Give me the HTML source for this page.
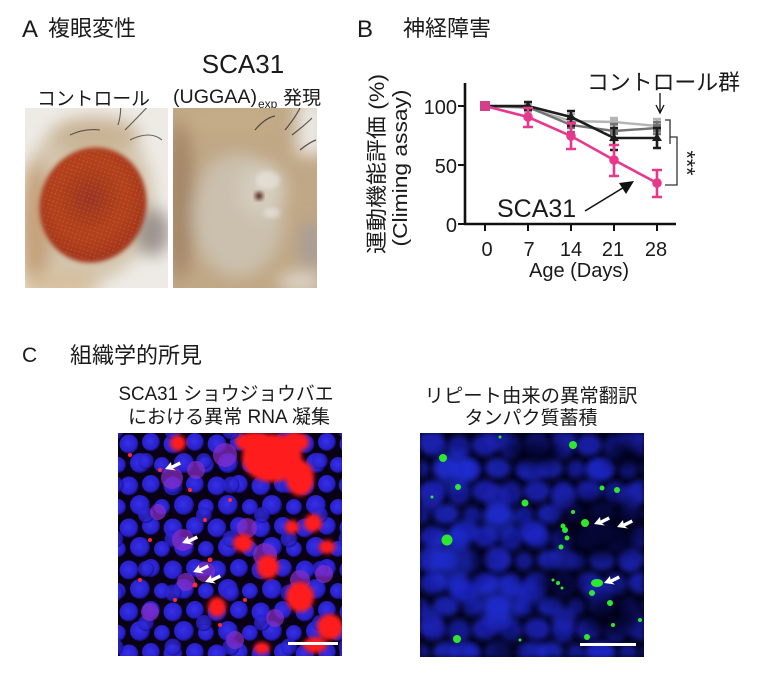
<!DOCTYPE html>
<html><head><meta charset="utf-8"><style>
html,body{margin:0;padding:0;background:#fff;width:768px;height:674px;overflow:hidden}
svg{display:block}
.j{font-family:"Liberation Sans","Noto Sans CJK JP",sans-serif;fill:#1a1a1a}
.l{font-family:"Liberation Sans",sans-serif;fill:#1a1a1a}
</style></head><body>
<svg width="768" height="674" viewBox="0 0 768 674" xmlns="http://www.w3.org/2000/svg">
<defs>
  <filter id="b2" x="-20%" y="-20%" width="140%" height="140%"><feGaussianBlur stdDeviation="2"/></filter>
  <filter id="b3" x="-20%" y="-20%" width="140%" height="140%"><feGaussianBlur stdDeviation="3"/></filter>
  <filter id="b4" x="-30%" y="-30%" width="160%" height="160%"><feGaussianBlur stdDeviation="4"/></filter>
  <filter id="b8" x="-50%" y="-50%" width="200%" height="200%"><feGaussianBlur stdDeviation="8"/></filter>
  <clipPath id="cA1"><rect x="25" y="108" width="143" height="180"/></clipPath>
  <clipPath id="cA2"><rect x="173" y="108" width="144" height="180"/></clipPath>
  <clipPath id="cC1"><rect x="118" y="433" width="224" height="223"/></clipPath>
  <clipPath id="cC2"><rect x="420" y="433" width="224" height="224"/></clipPath>
  <radialGradient id="eyeG" cx="0.45" cy="0.45" r="0.55">
    <stop offset="0" stop-color="#9a3420"/><stop offset="0.6" stop-color="#b4421f"/><stop offset="1" stop-color="#a3361a"/>
  </radialGradient>
  <pattern id="omm" width="4" height="4" patternUnits="userSpaceOnUse">
    <circle cx="2" cy="2" r="0.7" fill="#e08a55" opacity="0.35"/>
  </pattern>
  <radialGradient id="nuc" cx="0.45" cy="0.45" r="0.55">
    <stop offset="0" stop-color="#3630ea"/><stop offset="0.8" stop-color="#2820c8"/><stop offset="1" stop-color="#140c70"/>
  </radialGradient>
  <pattern id="nucL" width="44" height="42" patternUnits="userSpaceOnUse" x="118" y="433">
    <circle cx="11" cy="11" r="9.5" fill="url(#nuc)"/>
    <circle cx="33" cy="9" r="9" fill="url(#nuc)"/>
    <circle cx="22" cy="30" r="10" fill="url(#nuc)"/>
    <circle cx="0" cy="32" r="8" fill="url(#nuc)"/>
    <circle cx="44" cy="32" r="8" fill="url(#nuc)"/>
    <circle cx="11" cy="53" r="9.5" fill="url(#nuc)"/>
    <circle cx="33" cy="51" r="9" fill="url(#nuc)"/>
    <circle cx="22" cy="-12" r="10" fill="url(#nuc)"/>
  </pattern>
  <pattern id="nucL2" width="58" height="54" patternUnits="userSpaceOnUse" x="131" y="447">
    <circle cx="15" cy="14" r="8" fill="url(#nuc)"/>
    <circle cx="42" cy="38" r="8.5" fill="url(#nuc)"/>
  </pattern>
  <pattern id="nucR" width="52" height="46" patternUnits="userSpaceOnUse" x="420" y="433">
    <ellipse cx="13" cy="12" rx="13" ry="11" fill="#1a22b8"/>
    <ellipse cx="39" cy="14" rx="11" ry="12" fill="#151ca0"/>
    <ellipse cx="26" cy="35" rx="13" ry="10" fill="#1c26c0"/>
    <ellipse cx="0" cy="36" rx="9" ry="9" fill="#151ca0"/>
    <ellipse cx="52" cy="36" rx="9" ry="9" fill="#151ca0"/>
  </pattern>
  <pattern id="nucR2" width="67" height="61" patternUnits="userSpaceOnUse" x="445" y="452">
    <ellipse cx="20" cy="18" rx="14" ry="11" fill="#1e28c8"/>
    <ellipse cx="52" cy="46" rx="12" ry="13" fill="#1a22b0"/>
  </pattern>
</defs>

<!-- ===== Panel A ===== -->
<text x="22" y="37" class="l" font-size="24">A</text>
<text x="48" y="36" class="j" font-size="22">複眼変性</text>
<text x="243" y="73" class="l" font-size="26" text-anchor="middle">SCA31</text>
<text x="37" y="105" class="j" font-size="19" textLength="113" lengthAdjust="spacingAndGlyphs">コントロール</text>
<text x="173" y="103" class="l" font-size="19" textLength="84" lengthAdjust="spacingAndGlyphs">(UGGAA)</text>
<text x="258" y="108" class="l" font-size="12">exp</text>
<text x="283" y="104" class="j" font-size="19">発現</text>

<!-- left fly photo -->
<g clip-path="url(#cA1)">
  <rect x="25" y="108" width="143" height="180" fill="#eeebe6"/>
  <g filter="url(#b8)">
    <ellipse cx="88" cy="200" rx="66" ry="82" fill="#d3c5ad"/>
    <ellipse cx="35" cy="230" rx="16" ry="70" fill="#c4a27a"/>
    <ellipse cx="60" cy="285" rx="40" ry="14" fill="#d6bf9e"/>
    <ellipse cx="152" cy="232" rx="18" ry="24" fill="#9c948f"/>
    <ellipse cx="95" cy="135" rx="45" ry="18" fill="#c9b495"/>
  </g>
  <g transform="rotate(18 93 205)">
    <ellipse cx="93" cy="205" rx="53" ry="58" fill="url(#eyeG)" filter="url(#b2)"/>
    <ellipse cx="93" cy="205" rx="50" ry="55" fill="url(#omm)"/>
  </g>
  <g stroke="#3a3030" stroke-width="1.1" fill="none" opacity="0.75">
    <path d="M125 130 Q140 115 152 102"/>
    <path d="M130 140 Q150 130 162 140"/>
    <path d="M118 125 Q122 112 120 100"/>
    <path d="M70 135 Q85 128 100 130"/>
  </g>
</g>

<!-- right fly photo -->
<g clip-path="url(#cA2)">
  <rect x="173" y="108" width="144" height="180" fill="#c0a785"/>
  <g filter="url(#b8)">
    <rect x="297" y="100" width="30" height="55" fill="#ebe8e3"/>
    <ellipse cx="180" cy="200" rx="14" ry="80" fill="#a58667"/>
    <ellipse cx="238" cy="215" rx="46" ry="62" fill="#cbc0ad"/>
    <ellipse cx="262" cy="190" rx="24" ry="28" fill="#d4ccbe"/>
    <ellipse cx="310" cy="245" rx="10" ry="25" fill="#a49d98"/>
    <ellipse cx="300" cy="282" rx="22" ry="10" fill="#ddd6cb"/>
    <ellipse cx="230" cy="120" rx="50" ry="12" fill="#c6ad88"/>
  </g>
  <ellipse cx="268" cy="180" rx="12" ry="9" fill="#eeebe5" opacity="0.55" filter="url(#b2)"/>
  <ellipse cx="272" cy="213" rx="8" ry="5" fill="#eeebe5" opacity="0.55" filter="url(#b2)"/>
  <circle cx="259" cy="196" r="4" fill="#5a2a22" filter="url(#b2)"/>
  <g stroke="#2e2628" stroke-width="1.2" fill="none" opacity="0.75">
    <path d="M285 130 Q295 118 300 108"/>
    <path d="M292 135 Q305 125 312 118"/>
    <path d="M255 130 Q265 118 275 116"/>
    <path d="M300 150 Q310 142 316 140"/>
  </g>
</g>

<!-- ===== Panel B ===== -->
<text x="357" y="37" class="l" font-size="24">B</text>
<text x="403" y="36" class="j" font-size="22">神経障害</text>

<!-- y label -->
<text transform="translate(384 164) rotate(-90)" class="j" font-size="21" text-anchor="middle" textLength="180" lengthAdjust="spacingAndGlyphs">運動機能評価 (%)</text>
<text transform="translate(407 168) rotate(-90)" class="l" font-size="20" text-anchor="middle" textLength="157" lengthAdjust="spacingAndGlyphs">(Climing assay)</text>

<!-- axes -->
<g stroke="#111" stroke-width="2.6" fill="none">
  <line x1="465" y1="83" x2="465" y2="225"/>
  <line x1="464" y1="224" x2="676" y2="224"/>
</g>
<g stroke="#111" stroke-width="2" fill="none">
  <line x1="458" y1="106" x2="465" y2="106"/>
  <line x1="458" y1="165" x2="465" y2="165"/>
  <line x1="458" y1="224" x2="465" y2="224"/>
  <line x1="485" y1="224" x2="485" y2="231"/>
  <line x1="528" y1="224" x2="528" y2="231"/>
  <line x1="571" y1="224" x2="571" y2="231"/>
  <line x1="614" y1="224" x2="614" y2="231"/>
  <line x1="657" y1="224" x2="657" y2="231"/>
</g>
<g class="l" font-size="20" text-anchor="end">
  <text x="457" y="114">100</text>
  <text x="457" y="173">50</text>
  <text x="457" y="232">0</text>
</g>
<g class="l" font-size="20" text-anchor="middle">
  <text x="487" y="256">0</text>
  <text x="529" y="256">7</text>
  <text x="571" y="256">14</text>
  <text x="613" y="256">21</text>
  <text x="656" y="256">28</text>
  <text x="579" y="277">Age (Days)</text>
</g>

<!-- light gray series -->
<g stroke="#b4b4b4" stroke-width="2.4" fill="none">
  <polyline points="485,106 528,108 571,121 614,122 657,126"/>
  <path d="M528 104V112M524 104H532M524 112H532 M571 114V128M567 114H575M567 128H575 M614 118V128M610 118H618M610 128H618 M657 119V132M653 119H661M653 132H661"/>
</g>
<g fill="#b4b4b4"><rect x="610" y="118" width="8" height="8"/><rect x="653" y="122" width="8" height="8"/><rect x="567" y="117" width="8" height="8"/></g>
<!-- dark gray series -->
<g stroke="#737373" stroke-width="2.4" fill="none">
  <polyline points="485,106 528,107 571,125 614,131 657,128"/>
  <path d="M571 118V132M567 118H575M567 132H575 M614 124V140M610 124H618M610 140H618 M657 122V134M653 122H661M653 134H661"/>
</g>
<g fill="#737373"><rect x="610" y="127" width="8" height="8"/><rect x="653" y="124" width="8" height="8"/><rect x="567" y="121" width="8" height="8"/></g>
<!-- black series -->
<g stroke="#1c1c1c" stroke-width="2.6" fill="none">
  <polyline points="485,106 528,106 571,117 614,138 657,138"/>
  <path d="M528 102V110M524 102H532M524 110H532 M571 111V126M567 111H575M567 126H575 M614 128V150M610 128H618M610 150H618 M657 128V148M653 128H661M653 148H661"/>
</g>
<g fill="#1c1c1c"><path d="M614 133l5 8h-10z"/><path d="M657 133l5 8h-10z"/><path d="M571 112l5 8h-10z"/><path d="M528 101l5 8h-10z"/></g>
<!-- pink series -->
<g stroke="#e8388c" stroke-width="2.6" fill="none">
  <polyline points="485,106 528,117 571,136 614,160 657,183"/>
  <path d="M528 108V127M523 108H533M523 127H533 M571 123V149M566 123H576M566 149H576 M614 145V176M609 145H619M609 176H619 M657 170V197M652 170H662M652 197H662"/>
</g>
<rect x="480" y="101" width="10" height="10" fill="#d2408a"/>
<g fill="#e8388c"><circle cx="528" cy="117" r="4.8"/><circle cx="571" cy="136" r="4.8"/><circle cx="614" cy="160" r="4.8"/><circle cx="657" cy="183" r="4.8"/></g>

<!-- annotations -->
<text x="587" y="90" class="j" font-size="22" textLength="153" lengthAdjust="spacingAndGlyphs">コントロール群</text>
<g stroke="#111" stroke-width="1.3" fill="none">
  <line x1="660" y1="93" x2="660" y2="112"/>
  <path d="M656 105L660 113L664 105"/>
</g>
<text x="497" y="217" class="l" font-size="25">SCA31</text>
<line x1="585" y1="211" x2="626" y2="186" stroke="#111" stroke-width="1.6"/>
<path d="M634 181L619 183L626 194Z" fill="#111"/>
<g stroke="#333" stroke-width="1.3" fill="none">
  <path d="M665 120H670V144"/>
  <path d="M670 137H677V185H665"/>
</g>
<text transform="translate(679 163) rotate(90)" class="l" font-size="23" text-anchor="middle" textLength="25" lengthAdjust="spacingAndGlyphs">***</text>

<!-- ===== Panel C ===== -->
<text x="22" y="362" class="l" font-size="21">C</text>
<text x="70" y="363" class="j" font-size="22">組織学的所見</text>
<text x="226" y="400" class="j" font-size="19" text-anchor="middle" textLength="215" lengthAdjust="spacingAndGlyphs">SCA31 ショウジョウバエ</text>
<text x="229" y="423" class="j" font-size="19" text-anchor="middle" textLength="202" lengthAdjust="spacingAndGlyphs">における異常 RNA 凝集</text>
<text x="531" y="402" class="j" font-size="19" text-anchor="middle" textLength="213" lengthAdjust="spacingAndGlyphs">リピート由来の異常翻訳</text>
<text x="531" y="424" class="j" font-size="19" text-anchor="middle">タンパク質蓄積</text>

<!-- left micrograph -->
<g clip-path="url(#cC1)">
  <rect x="118" y="433" width="224" height="223" fill="#0a0016"/>
  <rect x="118" y="433" width="224" height="223" fill="url(#nucL)"/>
  <rect x="118" y="433" width="224" height="223" fill="url(#nucL2)" opacity="0.8"/>
  <g fill="#8a2ec8" opacity="0.7">
    <circle cx="172" cy="478" r="11"/><circle cx="196" cy="470" r="9"/><circle cx="183" cy="540" r="11"/>
    <circle cx="205" cy="572" r="10"/><circle cx="186" cy="582" r="9"/><circle cx="158" cy="512" r="8"/>
    <circle cx="225" cy="455" r="12"/><circle cx="247" cy="528" r="10"/><circle cx="265" cy="555" r="12"/>
    <circle cx="300" cy="580" r="10"/><circle cx="324" cy="574" r="9"/><circle cx="150" cy="612" r="9"/>
    <circle cx="235" cy="640" r="9"/><circle cx="275" cy="618" r="9"/>
  </g>
  <g fill="#ff1a1a" filter="url(#b2)">
    <ellipse cx="272" cy="458" rx="30" ry="24"/>
    <ellipse cx="300" cy="478" rx="14" ry="18"/>
    <ellipse cx="255" cy="442" rx="20" ry="10"/>
    <ellipse cx="295" cy="442" rx="14" ry="10"/>
    <ellipse cx="178" cy="443" rx="8" ry="8"/>
    <ellipse cx="300" cy="597" rx="14" ry="15"/>
    <ellipse cx="330" cy="627" rx="13" ry="13"/>
    <ellipse cx="217" cy="607" rx="9" ry="10"/>
    <ellipse cx="268" cy="567" rx="11" ry="12"/>
    <ellipse cx="243" cy="543" rx="10" ry="9"/>
    <ellipse cx="313" cy="523" rx="9" ry="9"/>
    <ellipse cx="327" cy="547" rx="8" ry="7"/>
    <ellipse cx="292" cy="527" rx="7" ry="7"/>
    <ellipse cx="315" cy="645" rx="12" ry="8"/>
    <ellipse cx="262" cy="648" rx="8" ry="6"/>
  </g>
  <g fill="#ff2a3a">
    <circle cx="160" cy="470" r="2"/><circle cx="190" cy="490" r="2"/><circle cx="150" cy="540" r="2"/>
    <circle cx="205" cy="520" r="2"/><circle cx="175" cy="600" r="2"/><circle cx="140" cy="580" r="2"/>
    <circle cx="230" cy="500" r="2"/><circle cx="210" cy="560" r="2.5"/><circle cx="195" cy="585" r="2.5"/>
    <circle cx="245" cy="600" r="2"/><circle cx="130" cy="455" r="2"/><circle cx="220" cy="625" r="2"/>
  </g>
  <g fill="#fff">
    <path d="M165 469l6 -7l0.5 3.5 8 -4 1.5 3 -8 4 3 2z"/>
    <path d="M182 543l6 -7l0.5 3.5 8 -4 1.5 3 -8 4 3 2z"/>
    <path d="M193 572l6 -7l0.5 3.5 8 -4 1.5 3 -8 4 3 2z"/>
    <path d="M205 582l6 -7l0.5 3.5 8 -4 1.5 3 -8 4 3 2z"/>
  </g>
  <rect x="288" y="642" width="50" height="3" fill="#fff"/>
</g>

<!-- right micrograph -->
<g clip-path="url(#cC2)">
  <rect x="420" y="433" width="224" height="224" fill="#03031a"/>
  <rect x="420" y="433" width="224" height="224" fill="url(#nucR)" filter="url(#b3)" opacity="0.85"/>
  <rect x="420" y="433" width="224" height="224" fill="url(#nucR2)" filter="url(#b3)" opacity="0.8"/>
  <g fill="#020212" opacity="0.8" filter="url(#b8)">
    <ellipse cx="600" cy="528" rx="44" ry="30"/>
    <ellipse cx="535" cy="452" rx="28" ry="14"/>
    <ellipse cx="612" cy="615" rx="30" ry="22"/>
    <ellipse cx="470" cy="560" rx="16" ry="10"/>
    <ellipse cx="560" cy="585" rx="22" ry="16"/>
    <ellipse cx="625" cy="455" rx="18" ry="14"/>
    <ellipse cx="505" cy="650" rx="20" ry="10"/>
  </g>
  <g fill="#2432e0" opacity="0.55" filter="url(#b4)">
    <ellipse cx="450" cy="560" rx="22" ry="30"/>
    <ellipse cx="500" cy="600" rx="25" ry="25"/>
    <ellipse cx="455" cy="470" rx="20" ry="20"/>
    <ellipse cx="500" cy="520" rx="18" ry="16"/>
  </g>
  <g fill="#2ee82e">
    <circle cx="573" cy="445" r="4"/><circle cx="525" cy="503" r="3.5"/><circle cx="585" cy="523" r="4"/>
    <circle cx="443" cy="458" r="4"/><circle cx="458" cy="487" r="3"/><circle cx="447" cy="540" r="5.5"/>
    <ellipse cx="597" cy="583" rx="6" ry="4"/><circle cx="592" cy="593" r="3"/><circle cx="457" cy="639" r="4"/>
    <circle cx="587" cy="637" r="3"/><circle cx="565" cy="530" r="3"/><circle cx="567" cy="538" r="2.5"/>
    <circle cx="563" cy="526" r="2.5"/><circle cx="573" cy="512" r="2"/><circle cx="602" cy="488" r="2.5"/>
    <circle cx="617" cy="490" r="3"/><circle cx="610" cy="603" r="3"/><circle cx="558" cy="583" r="2"/>
    <circle cx="553" cy="580" r="1.5"/><circle cx="562" cy="588" r="1.5"/><circle cx="561" cy="547" r="2.5"/>
    <circle cx="613" cy="625" r="2"/><circle cx="432" cy="497" r="1.5"/><circle cx="520" cy="640" r="1.5"/>
    <circle cx="500" cy="437" r="1.5"/><circle cx="640" cy="620" r="2"/>
  </g>
  <g fill="#fff">
    <path d="M594 524l6 -7l0.5 3.5 8 -4 1.5 3 -8 4 3 2z"/>
    <path d="M617 527l6 -7l0.5 3.5 8 -4 1.5 3 -8 4 3 2z"/>
    <path d="M604 583l6 -7l0.5 3.5 8 -4 1.5 3 -8 4 3 2z"/>
  </g>
  <rect x="580" y="643" width="56" height="3" fill="#fff"/>
</g>
</svg>
</body></html>
